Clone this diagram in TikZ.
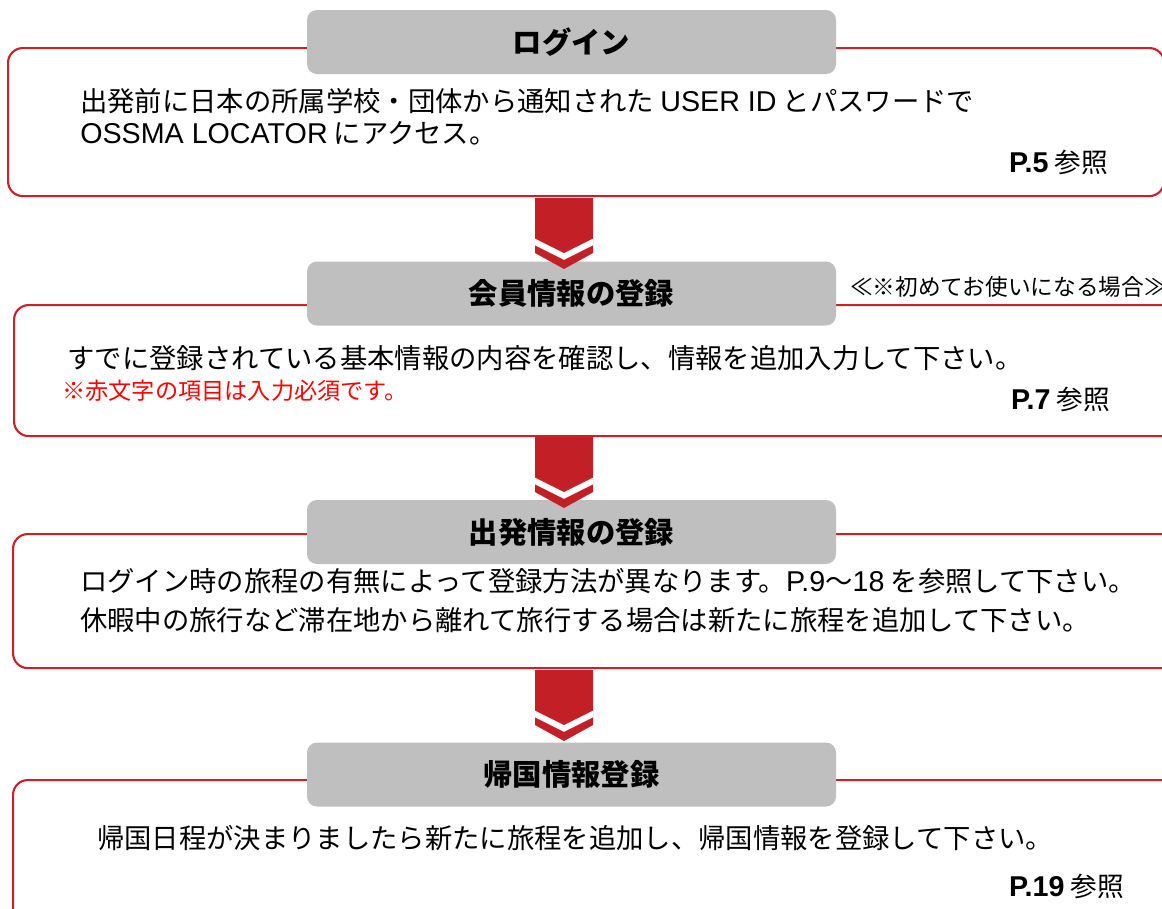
\documentclass[tikz,border=0pt]{standalone}
\usepackage{fontspec}
\setmainfont{Noto Sans CJK JP}
\newfontfamily\latfont{Liberation Sans}
\newcommand{\en}[1]{{\latfont\fontsize{21.5pt}{25pt}\selectfont #1}}
\definecolor{boxred}{HTML}{C8232B}
\definecolor{arrred}{HTML}{C21F26}
\definecolor{hdrgray}{HTML}{BFBFBF}
\definecolor{notered}{HTML}{FF0000}
\tikzset{
  frame/.style={draw=boxred, line width=1.6pt, rounded corners=11pt, fill=white, anchor=north west, inner sep=0},
  hdr/.style={fill=hdrgray, rounded corners=7.5pt, minimum width=396.75pt, minimum height=48pt, inner sep=0,
    font=\fontsize{22pt}{26pt}\selectfont\bfseries},
  body/.style={anchor=base west, inner sep=0, font=\fontsize{20.5pt}{24pt}\selectfont},
  redtxt/.style={anchor=base west, inner sep=0, text=notered, font=\fontsize{17.4pt}{20pt}\selectfont},
  note/.style={anchor=base west, inner sep=0, font=\fontsize{17pt}{20pt}\selectfont},
  pref/.style={anchor=base east, inner sep=0, font=\fontsize{20pt}{24pt}\selectfont},
  chev/.pic={
    \fill[arrred] (-29,0) -- (29,0) -- (29,55) -- (0,71) -- (-29,55) -- cycle;
    \begin{scope}
      \clip (-29,0) -- (29,0) -- (29,55) -- (0,71) -- (-29,55) -- cycle;
      \draw[white, line width=4.4pt] (-31,43) -- (0,58.5) -- (31,43);
    \end{scope}
  }
}
\begin{document}
\begin{tikzpicture}[x=0.75pt,y=-0.75pt]
\useasboundingbox (0,0) rectangle (1162,908);
\clip (0,0) rectangle (1162,908);
% frames
\node[frame, minimum width=867pt, minimum height=111pt] (b1) at (7,47) {};
\node[frame, minimum width=880pt, minimum height=98.25pt] (b2) at (13,304) {};
\node[frame, minimum width=880pt, minimum height=100.5pt] (b3) at (12,533) {};
\node[frame, minimum width=880pt, minimum height=120pt] (b4) at (12,779) {};
% headers
\node[hdr] (h1) at (571.5,42) {ログイン};
\node[hdr] (h2) at (571.5,293.5) {会員情報の登録};
\node[hdr] (h3) at (571.5,532) {出発情報の登録};
\node[hdr] (h4) at (571.5,774.5) {帰国情報登録};
% arrows
\pic (a1) at (564,198) {chev};
\pic (a2) at (564,437) {chev};
\pic (a3) at (564,670) {chev};
% texts
\node[body] (t1a) at (80,111) {出発前に日本の所属学校・団体から通知された \en{USER ID} とパスワードで};
\node[body] (t1b) at (80,143) {\en{OSSMA LOCATOR} にアクセス。};
\node[pref] (r1) at (1108,172) {\en{\bfseries P.5} 参照};
\node[note] (n2) at (850,295) {≪※初めてお使いになる場合≫};
\node[body] (t2a) at (67,368) {すでに登録されている基本情報の内容を確認し、情報を追加入力して下さい。};
\node[redtxt] (t2b) at (62,399) {※赤文字の項目は入力必須です。};
\node[pref] (r2) at (1110,409) {\en{\bfseries P.7} 参照};
\node[body] (t3a) at (80,591) {ログイン時の旅程の有無によって登録方法が異なります。\en{P.9}～\en{18} を参照して下さい。};
\node[body] (t3b) at (80,630) {休暇中の旅行など滞在地から離れて旅行する場合は新たに旅程を追加して下さい。};
\node[body] (t4a) at (97,848) {帰国日程が決まりましたら新たに旅程を追加し、帰国情報を登録して下さい。};
\node[pref] (r4) at (1124,896) {\en{\bfseries P.19} 参照};
\end{tikzpicture}
\end{document}
